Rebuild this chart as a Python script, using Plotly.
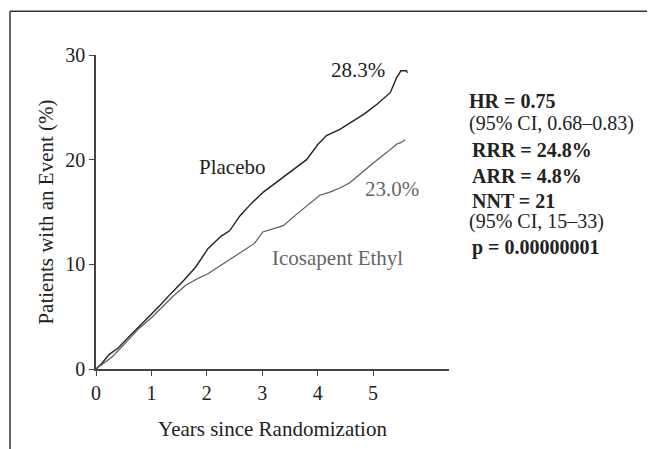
import plotly.graph_objects as go

# ---- data ----
placebo_t = [0, 0.10, 0.24, 0.40, 0.60, 0.78, 0.95, 1.14, 1.35, 1.59, 1.80, 2.02, 2.26, 2.41, 2.60,
             2.80, 3.02, 3.20, 3.38, 3.60, 3.80, 4.01, 4.16, 4.40, 4.58, 4.85, 5.07, 5.20, 5.31,
             5.43, 5.46, 5.50, 5.60, 5.62]
placebo_v = [0, 0.5, 1.4, 2.0, 3.1, 4.05, 4.9, 6.0, 7.2, 8.5, 9.75, 11.5, 12.7, 13.2, 14.65,
             15.8, 16.9, 17.6, 18.3, 19.2, 20.0, 21.5, 22.3, 22.9, 23.5, 24.4, 25.3, 25.9, 26.4,
             27.9, 28.1, 28.5, 28.5, 28.3]

icosa_t = [0, 0.30, 0.55, 0.78, 1.00, 1.20, 1.40, 1.62, 1.82, 2.02, 2.22, 2.41, 2.65, 2.86, 3.01,
           3.25, 3.38, 3.60, 3.80, 4.04, 4.22, 4.40, 4.58, 4.80, 5.01, 5.25, 5.43, 5.49, 5.58]
icosa_v = [0, 1.2, 2.6, 3.9, 4.9, 5.95, 7.0, 8.0, 8.6, 9.1, 9.8, 10.5, 11.3, 12.0, 13.1,
           13.45, 13.7, 14.7, 15.6, 16.6, 16.9, 17.3, 17.8, 18.8, 19.7, 20.7, 21.5, 21.6, 21.9]

y_ticks = [0, 10, 20, 30]
x_ticks = [0, 1, 2, 3, 4, 5]

stats_lines = [
    ("<b>HR = 0.75</b>", 101),
    ("(95% CI, 0.68–0.83)", 124),
    ("<b>RRR = 24.8%</b>", 151),
    ("<b>ARR = 4.8%</b>", 177),
    ("<b>NNT = 21</b>", 202),
    ("(95% CI, 15–33)", 223),
    ("<b>p = 0.00000001</b>", 249),
]
stats_x_px = [467, 467, 470, 470, 470, 467, 470]

# ---- layout geometry (page pixels; the page has an 8px body margin) ----
OFF = 8
PAGE_W, PAGE_H = 655, 449
W, H = PAGE_W - OFF, PAGE_H - OFF
# plot area in page pixels
PL, PR, PT, PB = 96, 449, 55, 371
L, R, T, B = PL - OFF, PR - OFF, PT - OFF, PB - OFF
FONT = "Liberation Serif, Times New Roman, serif"
DARK = "#222222"
GRAY = "#666666"


def px2paper_x(px):
    return (px - PL) / (PR - PL)


def px2paper_y(py):
    return (PB - py) / (PB - PT)


fig = go.Figure()
fig.add_trace(go.Scatter(x=placebo_t, y=placebo_v, mode="lines",
                         line=dict(color=DARK, width=1.4), showlegend=False, hoverinfo="skip"))
fig.add_trace(go.Scatter(x=icosa_t, y=icosa_v, mode="lines",
                         line=dict(color="#5a5a5a", width=1.2), showlegend=False, hoverinfo="skip"))

annotations = [
    dict(x=4.72, y=28.6, text="28.3%", font=dict(color=DARK, size=21)),
    dict(x=5.34, y=17.2, text="23.0%", font=dict(color=GRAY, size=21)),
    dict(x=2.45, y=19.3, text="Placebo", font=dict(color=DARK, size=21)),
    dict(x=4.36, y=10.6, text="Icosapent Ethyl", font=dict(color=GRAY, size=21)),
]
for a in annotations:
    a.update(xref="x", yref="y", showarrow=False, xanchor="center", yanchor="middle")

for (txt, py), px in zip(stats_lines, stats_x_px):
    annotations.append(dict(x=px2paper_x(px), y=px2paper_y(py), xref="paper", yref="paper",
                            text=txt, showarrow=False, xanchor="left", yanchor="middle",
                            font=dict(color=DARK, size=20)))

shapes = [
    dict(type="line", xref="paper", yref="paper",
         x0=px2paper_x(10), x1=px2paper_x(PAGE_W + 5), y0=px2paper_y(11), y1=px2paper_y(11),
         line=dict(color="#333333", width=1.5)),
    dict(type="line", xref="paper", yref="paper",
         x0=px2paper_x(10), x1=px2paper_x(10), y0=px2paper_y(11), y1=px2paper_y(PAGE_H + 5),
         line=dict(color="#333333", width=1.5)),
]

fig.update_layout(
    width=W, height=H,
    margin=dict(l=L, r=W - R, t=T, b=H - B, pad=0),
    paper_bgcolor="white", plot_bgcolor="white",
    font=dict(family=FONT, color=DARK, size=20),
    annotations=annotations, shapes=shapes,
    xaxis=dict(range=[0, 6.37], tickvals=x_ticks, ticktext=[str(v) for v in x_ticks],
               showgrid=False, zeroline=False, showline=True, linecolor="#444", linewidth=1.5,
               ticks="outside", ticklen=5, tickcolor="#444", tickwidth=1.2,
               tickfont=dict(size=20, family=FONT, color=DARK),
               title=dict(text="Years since Randomization", standoff=19,
                          font=dict(size=21, family=FONT, color=DARK))),
    yaxis=dict(range=[0, 30], tickvals=y_ticks, ticktext=[str(v) for v in y_ticks],
               showgrid=False, zeroline=False, showline=True, linecolor="#444", linewidth=1.5,
               ticks="outside", ticklen=5, tickcolor="#444", tickwidth=1.2,
               tickfont=dict(size=20, family=FONT, color=DARK),
               title=dict(text="Patients with an Event (%)", standoff=6,
                          font=dict(size=21, family=FONT, color=DARK))),
)

fig.write_html("out.html")
